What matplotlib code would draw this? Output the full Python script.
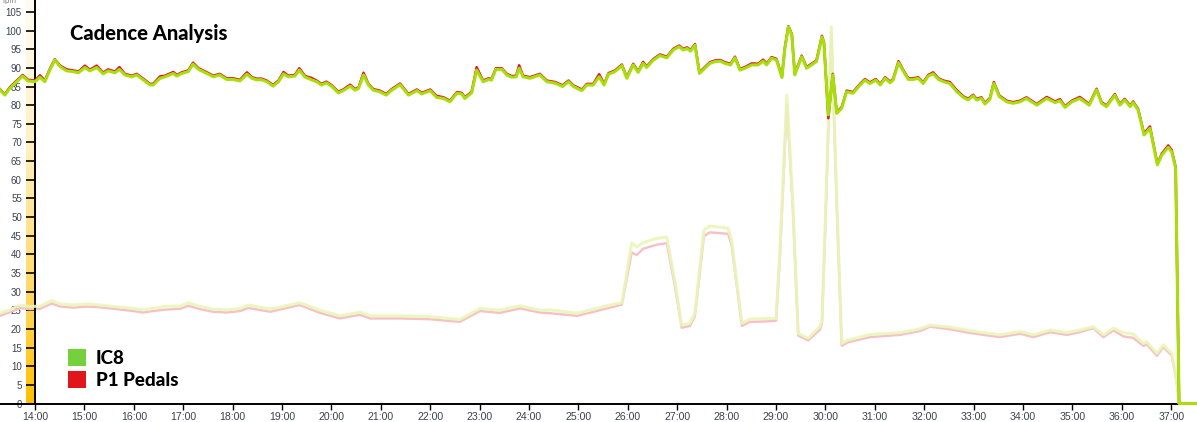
import numpy as np
import matplotlib
matplotlib.use("Agg")
import matplotlib.pyplot as plt
from matplotlib.colors import LinearSegmentedColormap
from matplotlib.patches import Rectangle

# ---------- data (time in minutes, cadence in rpm) ----------
ride_time = [
    13.29, 13.39, 13.49, 13.63, 13.75, 13.86, 14.00, 14.10, 14.20, 14.30,
    14.40, 14.51, 14.64, 14.78, 14.88, 15.01, 15.11, 15.25, 15.38, 15.48,
    15.62, 15.71, 15.82, 15.96, 16.06, 16.19, 16.33, 16.39, 16.53, 16.63,
    16.80, 16.87, 16.97, 17.10, 17.20, 17.31, 17.48, 17.61, 17.74, 17.88,
    18.01, 18.15, 18.29, 18.39, 18.49, 18.59, 18.69, 18.82, 18.93, 19.03,
    19.13, 19.26, 19.35, 19.47, 19.60, 19.70, 19.80, 19.90, 20.01, 20.14,
    20.24, 20.38, 20.48, 20.55, 20.65, 20.75, 20.85, 20.98, 21.11, 21.22,
    21.39, 21.56, 21.73, 21.83, 22.00, 22.13, 22.27, 22.40, 22.54, 22.64,
    22.70, 22.84, 22.94, 23.07, 23.18, 23.24, 23.33, 23.45, 23.55, 23.65,
    23.74, 23.80, 23.88, 24.02, 24.22, 24.36, 24.53, 24.68, 24.80, 24.90,
    25.07, 25.17, 25.30, 25.42, 25.52, 25.61, 25.74, 25.88, 25.98, 26.11,
    26.21, 26.31, 26.38, 26.52, 26.65, 26.79, 26.92, 27.04, 27.12, 27.20,
    27.27, 27.36, 27.45, 27.56, 27.66, 27.77, 27.87, 27.97, 28.08, 28.17,
    28.27, 28.37, 28.51, 28.64, 28.74, 28.81, 28.91, 29.01, 29.12, 29.18,
    29.25, 29.32, 29.38, 29.52, 29.62, 29.72, 29.82, 29.93, 29.97, 30.06,
    30.15, 30.23, 30.33, 30.43, 30.56, 30.70, 30.80, 30.90, 31.02, 31.11,
    31.21, 31.31, 31.37, 31.48, 31.58, 31.68, 31.78, 31.88, 31.98, 32.08,
    32.18, 32.29, 32.39, 32.52, 32.66, 32.79, 32.89, 32.99, 33.06, 33.16,
    33.23, 33.33, 33.41, 33.52, 33.67, 33.80, 33.94, 34.07, 34.28, 34.48,
    34.65, 34.75, 34.85, 34.99, 35.15, 35.34, 35.49, 35.59, 35.69, 35.86,
    35.96, 36.06, 36.17, 36.23, 36.33, 36.45, 36.57, 36.72, 36.81, 36.94,
    37.01, 37.09, 37.16, 37.52,
]

ic8_rpm = [
    84.1, 82.7, 84.5, 86.3, 87.8, 86.5, 86.3, 87.5, 86.3, 89.4,
    92.1, 90.3, 89.2, 89.0, 88.7, 90.1, 89.2, 90.1, 88.4, 89.2,
    88.7, 89.6, 88.1, 87.6, 88.1, 86.8, 85.4, 85.4, 87.2, 87.6,
    88.5, 87.8, 88.5, 89.0, 91.0, 89.6, 88.5, 87.6, 88.1, 86.9,
    86.9, 86.5, 88.3, 87.2, 86.8, 86.8, 86.3, 85.1, 86.3, 88.4,
    87.6, 87.8, 89.4, 87.5, 86.8, 86.3, 85.4, 86.0, 85.0, 83.3,
    83.9, 85.1, 84.0, 84.5, 88.1, 85.4, 84.0, 83.6, 82.7, 84.0,
    85.5, 82.7, 83.9, 83.0, 83.9, 82.1, 81.8, 80.9, 83.2, 83.0,
    81.8, 83.3, 89.4, 86.3, 86.9, 86.7, 89.6, 89.6, 88.1, 87.5,
    87.6, 89.9, 87.6, 87.2, 88.1, 86.3, 85.9, 85.0, 86.3, 85.0,
    83.9, 85.4, 85.4, 87.6, 85.4, 88.3, 89.0, 90.6, 87.2, 90.8,
    88.8, 91.2, 90.1, 92.1, 93.3, 92.7, 94.8, 95.7, 94.8, 95.2,
    94.5, 96.1, 88.5, 89.9, 91.2, 91.7, 91.8, 91.2, 90.8, 92.7,
    89.4, 89.9, 90.8, 90.8, 91.8, 90.8, 92.6, 92.1, 87.4, 95.2,
    101.0, 98.8, 88.1, 93.0, 89.9, 90.8, 91.7, 98.3, 96.6, 77.4,
    88.1, 77.8, 79.2, 83.6, 83.2, 85.4, 86.7, 85.8, 86.7, 85.4,
    87.2, 86.0, 86.7, 91.4, 89.0, 86.9, 86.9, 87.2, 85.8, 87.8,
    88.4, 86.9, 86.3, 85.8, 83.6, 82.1, 81.4, 82.5, 81.4, 81.8,
    80.3, 81.6, 85.8, 82.3, 80.9, 80.5, 80.9, 81.8, 80.0, 81.8,
    80.7, 81.2, 79.4, 80.9, 81.8, 80.0, 84.1, 80.5, 79.6, 82.7,
    80.0, 81.4, 79.6, 80.7, 78.7, 72.0, 73.8, 64.0, 66.6, 68.7,
    67.5, 63.1, 0.0, 0.0,
]

p1_rpm = [
    84.3, 82.9, 84.8, 86.6, 88.1, 86.8, 86.6, 88.0, 86.6, 89.7,
    92.3, 90.6, 89.6, 89.3, 89.0, 90.6, 89.5, 90.6, 88.7, 89.6,
    89.0, 90.2, 88.4, 87.9, 88.4, 87.1, 85.7, 85.7, 87.7, 87.9,
    88.9, 88.1, 88.8, 89.3, 91.4, 89.9, 88.8, 87.9, 88.4, 87.2,
    87.2, 86.8, 88.8, 87.5, 87.1, 87.1, 86.6, 85.4, 86.6, 88.9,
    87.9, 88.1, 89.9, 87.8, 87.3, 86.6, 85.7, 86.3, 85.3, 83.6,
    84.2, 85.5, 84.3, 84.8, 88.7, 85.7, 84.3, 83.9, 83.0, 84.3,
    85.8, 83.0, 84.2, 83.3, 84.2, 82.5, 82.1, 81.2, 83.5, 83.3,
    82.1, 83.6, 90.2, 86.6, 87.2, 87.0, 89.9, 89.9, 88.4, 87.8,
    87.9, 90.7, 87.9, 87.5, 88.4, 86.6, 86.2, 85.3, 86.6, 85.3,
    84.2, 85.7, 85.7, 88.3, 85.7, 88.6, 89.3, 90.9, 87.5, 91.1,
    89.1, 91.6, 90.4, 92.4, 93.6, 93.0, 95.1, 96.0, 95.1, 95.5,
    94.8, 96.4, 88.8, 90.2, 91.5, 92.0, 92.1, 91.5, 91.1, 93.0,
    89.7, 90.2, 91.2, 91.1, 92.2, 91.1, 92.9, 92.4, 87.7, 95.5,
    101.2, 99.1, 88.4, 93.3, 90.2, 91.1, 92.0, 98.6, 96.9, 76.5,
    88.4, 78.1, 79.5, 83.9, 83.5, 85.7, 87.0, 86.1, 87.0, 85.7,
    87.5, 86.3, 87.0, 91.8, 89.3, 87.2, 87.2, 87.5, 86.1, 88.1,
    88.8, 87.2, 86.6, 86.2, 84.0, 82.4, 81.7, 82.8, 81.7, 82.1,
    80.6, 81.9, 86.2, 82.6, 81.2, 80.8, 81.2, 82.1, 80.3, 82.2,
    81.0, 81.6, 79.7, 81.2, 82.2, 80.3, 84.4, 80.8, 79.9, 83.0,
    80.3, 81.7, 79.9, 81.0, 79.0, 72.4, 74.3, 64.3, 67.0, 69.2,
    68.0, 63.4, 0.0, 0.0,
]

# faded background traces
low_time = [
    13.29, 13.49, 13.70, 13.90, 14.10, 14.34, 14.51, 14.78, 15.05, 15.32,
    15.52, 15.99, 16.19, 16.39, 16.67, 16.94, 17.10, 17.34, 17.61, 17.88,
    18.15, 18.32, 18.76, 19.36, 19.77, 20.17, 20.58, 20.78, 21.39, 21.99,
    22.60, 23.01, 23.41, 23.82, 24.22, 24.43, 24.97, 25.37, 25.64, 25.88,
    26.08, 26.18, 26.31, 26.59, 26.79, 26.96, 27.09, 27.26, 27.36, 27.54,
    27.66, 28.03, 28.10, 28.31, 28.47, 28.81, 29.00, 29.08, 29.22, 29.34,
    29.45, 29.65, 29.79, 29.89, 29.93, 29.99, 30.12, 30.23, 30.33, 30.46,
    30.90, 31.51, 31.91, 32.12, 32.52, 32.93, 33.53, 33.94, 34.21, 34.55,
    34.89, 35.15, 35.42, 35.63, 35.83, 36.03, 36.23, 36.44, 36.50, 36.71,
    36.84, 37.01, 37.11, 37.16, 37.52,
]

ic8_low = [
    24.2, 25.1, 26.4, 26.0, 26.1, 27.6, 26.7, 26.4, 26.7, 26.4,
    26.1, 25.5, 25.1, 25.5, 26.1, 26.1, 27.0, 26.0, 25.3, 25.1,
    25.5, 26.4, 25.3, 27.0, 25.0, 23.5, 24.5, 23.5, 23.5, 23.3,
    22.5, 25.5, 25.0, 26.2, 25.0, 25.1, 24.2, 25.5, 26.4, 27.0,
    43.0, 42.0, 43.1, 44.3, 44.6, 32.2, 21.0, 21.5, 24.2, 46.5,
    47.6, 47.0, 43.8, 21.5, 22.6, 22.8, 22.8, 41.2, 82.7, 54.0,
    18.8, 17.5, 19.3, 20.6, 22.0, 45.6, 101.0, 54.6, 16.1, 17.0,
    18.5, 19.0, 20.0, 21.0, 20.5, 19.5, 18.4, 19.3, 18.4, 19.7,
    19.0, 19.7, 20.6, 18.4, 20.2, 19.0, 18.6, 16.1, 16.6, 13.5,
    15.7, 13.5, 6.3, 0.0, 0.0,
]

p1_low = [
    23.5, 24.5, 25.6, 25.3, 25.4, 26.8, 26.0, 25.7, 26.0, 25.8,
    25.5, 24.8, 24.4, 24.8, 25.2, 25.4, 26.2, 25.3, 24.6, 24.4,
    24.8, 25.6, 24.6, 26.4, 24.3, 22.8, 23.8, 22.8, 22.8, 22.6,
    21.9, 24.8, 24.3, 25.5, 24.4, 24.2, 23.5, 24.8, 25.7, 26.5,
    40.5, 39.8, 41.5, 42.6, 43.0, 31.0, 20.3, 20.8, 23.5, 44.8,
    45.9, 45.5, 42.5, 20.8, 21.9, 22.0, 22.2, 39.5, 80.5, 52.5,
    18.2, 16.9, 18.6, 19.8, 21.3, 44.0, 99.5, 53.0, 15.5, 16.4,
    17.8, 18.4, 19.4, 20.6, 19.9, 18.9, 17.8, 18.7, 17.8, 19.1,
    18.4, 19.1, 20.2, 17.8, 19.6, 18.0, 17.6, 15.4, 15.9, 12.8,
    15.1, 12.9, 5.8, 0.0, 0.0,
]

minute_ticks = list(range(14, 38))
rpm_ticks = list(range(0, 110, 5))

# ---------- figure ----------
W, H = 1197, 422
fig = plt.figure(figsize=(W / 100, H / 100), dpi=100)
ax = fig.add_axes([0, 18.5 / H, 1, 403.5 / H])
x0, x1 = 13.2915, 13.2915 + W * 0.020243
ax.set_xlim(x0, x1)
ax.set_ylim(0, 108.2)

# yellow gradient strip next to the y axis
cmap = LinearSegmentedColormap.from_list(
    "strip", [(0, "#fffcf2"), (0.35, "#fff0c4"), (0.7, "#ffdb6e"), (1, "#ffc000")])
grad = np.linspace(0, 1, 256).reshape(-1, 1)
ax.imshow(grad, cmap=cmap, aspect="auto", origin="upper",
          extent=[13.82, 14.0, 0, 108.2], zorder=0)

# faded traces
ax.plot(low_time, p1_low, color="#f6c0c6", lw=1.7, zorder=2, solid_joinstyle="round")
ax.plot(low_time, ic8_low, color="#eaf5b8", lw=2.2, alpha=0.9, zorder=3, solid_joinstyle="round")

# main traces
ax.plot(ride_time, p1_rpm, color="#e5142a", lw=1.8, zorder=4, clip_on=False,
        solid_joinstyle="round")
ax.plot(ride_time, ic8_rpm, color="#a8de0a", lw=2.2, zorder=5, clip_on=False,
        solid_joinstyle="round")

# axes styling
for s in ["top", "right"]:
    ax.spines[s].set_visible(False)
ax.spines["left"].set_position(("data", 14.0))
ax.spines["left"].set_linewidth(1.4)
ax.spines["bottom"].set_linewidth(1.4)
ax.set_xticks(minute_ticks)
ax.set_xticklabels([f"{m}:00" for m in minute_ticks])
ax.set_yticks(rpm_ticks)
ax.set_yticklabels([str(v) for v in rpm_ticks])
ax.tick_params(axis="y", direction="out", length=6.5, width=1.2, pad=3,
               labelsize=7, labelcolor="#3a4250", colors="black")
ax.tick_params(axis="y", labelcolor="#3a4250")
ax.tick_params(axis="x", direction="out", length=4, width=1.0, pad=2,
               labelsize=7.6, labelcolor="#3a4250")
for lab in ax.get_xticklabels() + ax.get_yticklabels():
    lab.set_fontfamily("Liberation Sans")
ax.patch.set_alpha(0)

# unit label, mostly cut off at the top
fig.text(2 / W, 1 - 1 / H, "rpm", fontsize=5, color="#777777", va="center", ha="left")

# title
fig.text(70 / W, 1 - 40 / H, "Cadence Analysis", fontsize=14.5, fontweight=900,
         family="Lato", color="black", va="baseline", ha="left")

# legend
legend_items = [("IC8", "#75d13b"), ("P1 Pedals", "#e1161c")]
for i, (name, col) in enumerate(legend_items):
    top = 349 + i * 21.5
    fig.patches.append(Rectangle((68 / W, 1 - (top + 17) / H), 18 / W, 17 / H,
                                 transform=fig.transFigure, facecolor=col,
                                 edgecolor="none"))
    fig.text(96 / W, 1 - (top + 15) / H, name, fontsize=13.5, fontweight=900,
             family="Lato", color="black", va="baseline", ha="left")

fig.savefig("out.png", dpi=100)
